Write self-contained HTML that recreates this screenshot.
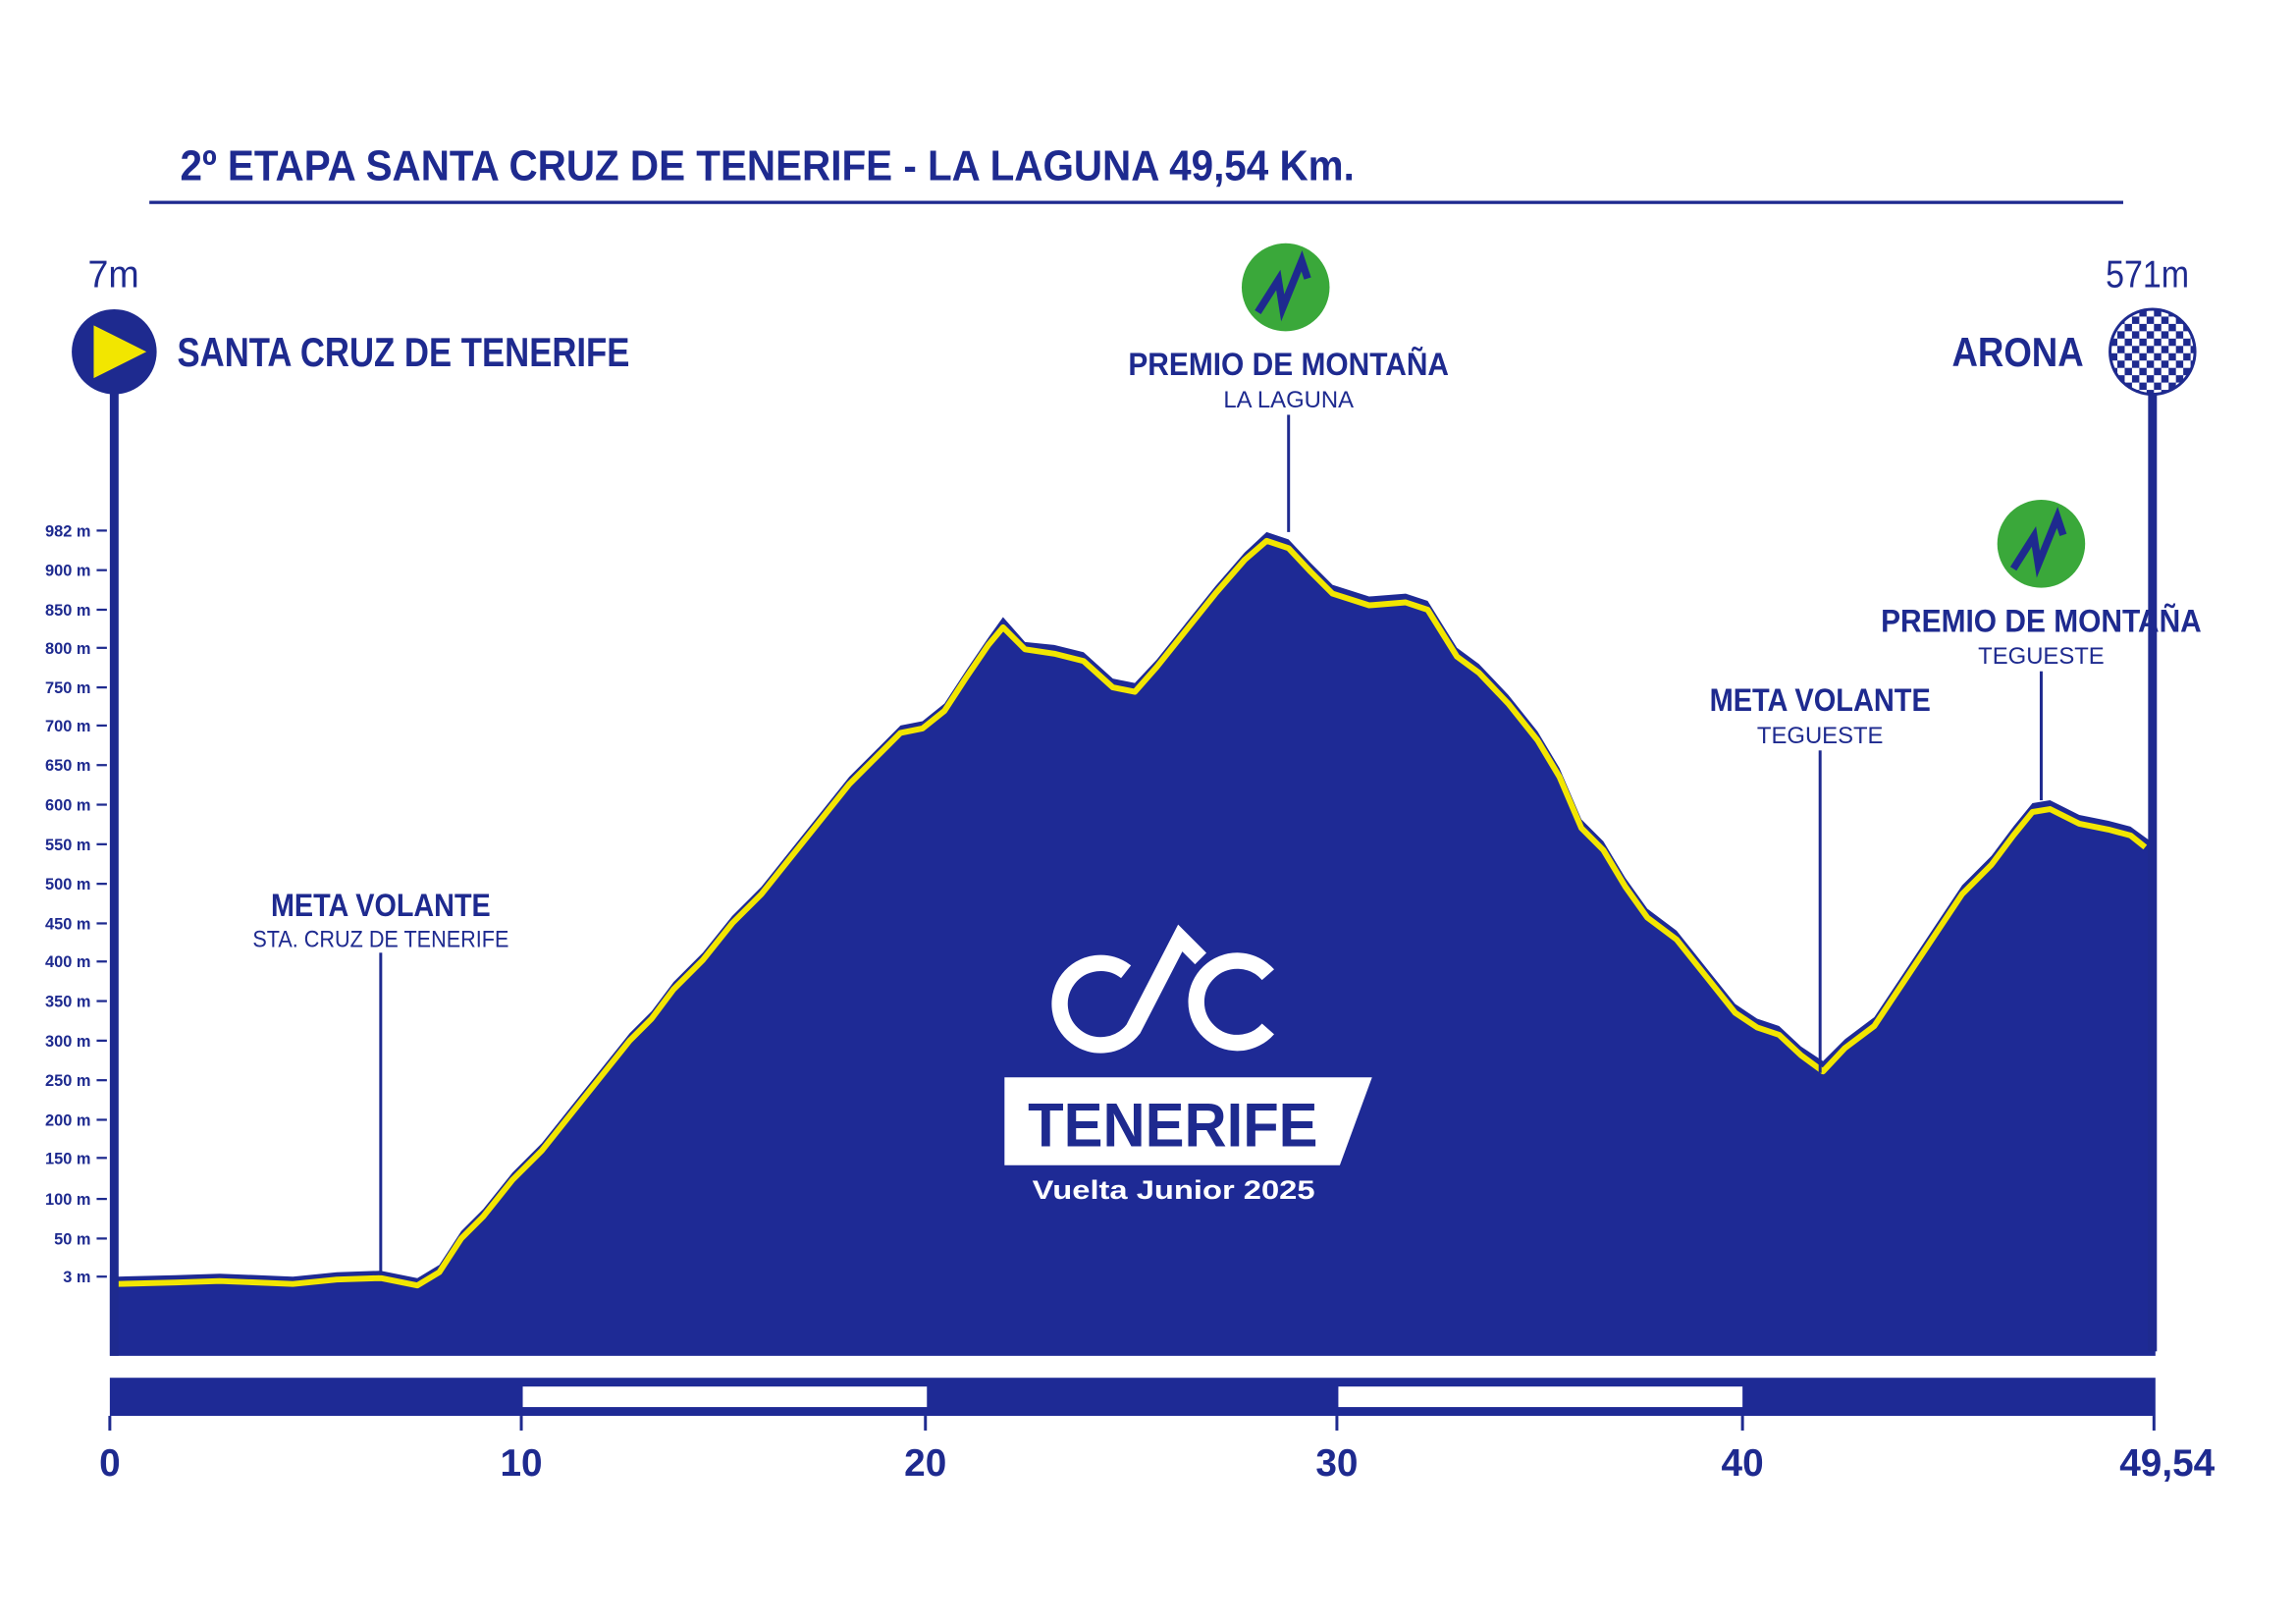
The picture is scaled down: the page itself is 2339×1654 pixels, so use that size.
<!DOCTYPE html>
<html><head><meta charset="utf-8"><style>
html,body{margin:0;padding:0;background:#fff;}
svg{display:block;}
text{font-family:"Liberation Sans Narrow","Liberation Sans",sans-serif;font-weight:bold;}
</style></head><body>
<svg width="2339" height="1654" viewBox="0 0 1568 1108" preserveAspectRatio="none" xmlns="http://www.w3.org/2000/svg">
<rect width="1568" height="1108" fill="#fff"/>
<!-- title -->
<text x="123" y="123" font-size="29" fill="#1e2a8f" textLength="802" lengthAdjust="spacingAndGlyphs">2º ETAPA  SANTA CRUZ DE TENERIFE - LA LAGUNA  49,54 Km.</text>
<rect x="102" y="137" width="1348" height="2.2" fill="#1e2a8f"/>

<!-- profile fill -->
<path fill="#1e2a95" d="M75,925 L75,870 L80,871 L120,870 L150,869 L200,871 L230,868 L260,867 L275,870 L285,872 L300,863 L315,840 L330,825 L350,800 L370,780 L390,755 L410,730 L430,705 L445,690 L460,670 L480,650 L500,625 L520,605 L540,580 L560,555 L580,530 L600,510 L615,495 L630,492 L645,480 L660,457 L675,435 L685,421 L700,438 L720,440 L740,445 L760,463 L775,466 L790,450 L810,425 L830,400 L850,377 L865,363 L880,368 L895,384 L910,399 L935,407 L960,405 L975,410 L995,442 L1010,453 L1030,474 L1050,499 L1065,524 L1080,559 L1095,574 L1110,599 L1125,620 L1145,635 L1165,660 L1185,685 L1200,695 L1215,700 L1230,714 L1245,724 L1260,709 L1280,694 L1300,664 L1320,634 L1340,604 L1360,584 L1375,564 L1388,548 L1400,546 L1420,556 L1440,560 L1455,564 L1466,572 L1472,576 L1472,925 Z"/>
<polyline fill="none" stroke="#f2e600" stroke-width="4" stroke-linejoin="round" points="80,876 120,875 150,874 200,876 230,873 260,872 275,875 285,877 300,868 315,845 330,830 350,805 370,785 390,760 410,735 430,710 445,695 460,675 480,655 500,630 520,610 540,585 560,560 580,535 600,515 615,500 630,497 645,485 660,462 675,440 685,428 700,443 720,446 740,451 760,469 775,472 790,455 810,430 830,405 850,382 865,369 880,374 895,390 910,405 935,413 960,411 975,416 995,448 1010,459 1030,480 1050,505 1065,530 1080,565 1095,580 1110,605 1125,626 1145,641 1165,666 1185,691 1200,701 1215,706 1230,720 1245,731 1260,715 1280,700 1300,670 1320,640 1340,610 1360,590 1375,570 1388,554 1400,552 1420,562 1440,566 1455,570 1465,578"/>

<!-- left axis -->
<rect x="75" y="240" width="6" height="685" fill="#1e2a8f"/>
<circle cx="78" cy="240" r="29" fill="#1e2a8f"/>
<polygon points="64,222 100,240 64,258" fill="#f2e600"/>
<text x="60" y="196" font-size="26" fill="#1e2a8f" textLength="35" lengthAdjust="spacingAndGlyphs" style="font-weight:normal">7m</text>
<text x="121" y="250" font-size="28" fill="#1e2a8f" textLength="309" lengthAdjust="spacingAndGlyphs">SANTA CRUZ DE TENERIFE</text>

<!-- right axis -->
<rect x="1467" y="240" width="6" height="682" fill="#1e2a8f"/>
<defs>
<pattern id="chk" width="10" height="10" patternUnits="userSpaceOnUse" x="1441" y="211">
<rect width="10" height="10" fill="#fff"/><rect width="5" height="5" fill="#1e2a8f"/><rect x="5" y="5" width="5" height="5" fill="#1e2a8f"/>
</pattern>
</defs>
<circle cx="1470" cy="240" r="29" fill="url(#chk)" stroke="#1e2a8f" stroke-width="2"/>
<text x="1438" y="196" font-size="26" fill="#1e2a8f" textLength="57" lengthAdjust="spacingAndGlyphs" style="font-weight:normal">571m</text>
<text x="1333" y="250" font-size="28" fill="#1e2a8f" textLength="90" lengthAdjust="spacingAndGlyphs">ARONA</text>

<!-- y labels -->
<g font-size="11" fill="#1e2a8f" text-anchor="end">
<text x="62" y="366">982 m</text><text x="62" y="393">900 m</text><text x="62" y="420">850 m</text><text x="62" y="446">800 m</text><text x="62" y="473">750 m</text><text x="62" y="499">700 m</text><text x="62" y="526">650 m</text><text x="62" y="553">600 m</text><text x="62" y="580">550 m</text><text x="62" y="607">500 m</text><text x="62" y="634">450 m</text><text x="62" y="660">400 m</text><text x="62" y="687">350 m</text><text x="62" y="714">300 m</text><text x="62" y="741">250 m</text><text x="62" y="768">200 m</text><text x="62" y="794">150 m</text><text x="62" y="822">100 m</text><text x="62" y="849">50 m</text><text x="62" y="875">3 m</text>
</g>
<g stroke="#1e2a8f" stroke-width="1.5">
<line x1="66" x2="73" y1="362" y2="362"/><line x1="66" x2="73" y1="389" y2="389"/><line x1="66" x2="73" y1="416" y2="416"/><line x1="66" x2="73" y1="442" y2="442"/><line x1="66" x2="73" y1="469" y2="469"/><line x1="66" x2="73" y1="495" y2="495"/><line x1="66" x2="73" y1="522" y2="522"/><line x1="66" x2="73" y1="549" y2="549"/><line x1="66" x2="73" y1="576" y2="576"/><line x1="66" x2="73" y1="603" y2="603"/><line x1="66" x2="73" y1="630" y2="630"/><line x1="66" x2="73" y1="656" y2="656"/><line x1="66" x2="73" y1="683" y2="683"/><line x1="66" x2="73" y1="710" y2="710"/><line x1="66" x2="73" y1="737" y2="737"/><line x1="66" x2="73" y1="764" y2="764"/><line x1="66" x2="73" y1="790" y2="790"/><line x1="66" x2="73" y1="818" y2="818"/><line x1="66" x2="73" y1="845" y2="845"/><line x1="66" x2="73" y1="871" y2="871"/>
</g>

<!-- annotations -->
<circle cx="878" cy="196" r="30" fill="#3aa83a"/>
<polyline points="859,213 873,191 876,210 889,178 893,190" fill="none" stroke="#1e2a8f" stroke-width="5" stroke-linejoin="miter"/>
<text x="880" y="256" font-size="22" fill="#1e2a8f" text-anchor="middle" textLength="219" lengthAdjust="spacingAndGlyphs">PREMIO DE MONTAÑA</text>
<text x="880" y="278" font-size="16" fill="#1e2a8f" text-anchor="middle" style="font-weight:normal">LA LAGUNA</text>
<rect x="879" y="283" width="2" height="80" fill="#1e2a8f"/>

<circle cx="1394" cy="371" r="30" fill="#3aa83a"/>
<polyline points="1375,388 1389,366 1392,385 1405,353 1409,365" fill="none" stroke="#1e2a8f" stroke-width="5"/>
<text x="1394" y="431" font-size="22" fill="#1e2a8f" text-anchor="middle" textLength="219" lengthAdjust="spacingAndGlyphs">PREMIO DE MONTAÑA</text>
<text x="1394" y="453" font-size="16" fill="#1e2a8f" text-anchor="middle" style="font-weight:normal">TEGUESTE</text>
<rect x="1393" y="458" width="2" height="88" fill="#1e2a8f"/>

<text x="1243" y="485" font-size="22" fill="#1e2a8f" text-anchor="middle" textLength="151" lengthAdjust="spacingAndGlyphs">META VOLANTE</text>
<text x="1243" y="507" font-size="16" fill="#1e2a8f" text-anchor="middle" style="font-weight:normal">TEGUESTE</text>
<rect x="1242" y="512" width="2" height="220" fill="#1e2a8f"/>

<text x="260" y="625" font-size="22" fill="#1e2a8f" text-anchor="middle" textLength="150" lengthAdjust="spacingAndGlyphs">META VOLANTE</text>
<text x="260" y="646" font-size="16" fill="#1e2a8f" text-anchor="middle" textLength="175" lengthAdjust="spacingAndGlyphs" style="font-weight:normal">STA. CRUZ DE TENERIFE</text>
<rect x="259" y="650" width="2" height="220" fill="#1e2a8f"/>

<!-- logo -->
<g fill="none" stroke="#fff" stroke-width="11" stroke-linecap="butt" stroke-linejoin="miter">
<path d="M769,663 A28,28 0 1 0 774,702 L806,640 L820,654"/>
<path d="M866,665 A28,28 0 1 0 866,702"/>
</g>
<polygon points="686,735 937,735 915,795 686,795" fill="#fff"/>
<text x="702" y="782" font-size="42" fill="#1e2a8f" textLength="198" lengthAdjust="spacingAndGlyphs" style="font-family:'Liberation Sans',sans-serif">TENERIFE</text>
<text x="705" y="818" font-size="18" fill="#fff" textLength="193" lengthAdjust="spacingAndGlyphs" style="font-family:'Liberation Sans',sans-serif">Vuelta Junior 2025</text>

<!-- distance bar -->
<rect x="75" y="940" width="1397" height="26" fill="#1e2a95"/>
<rect x="357" y="946" width="276" height="14" fill="#fff"/>
<rect x="914" y="946" width="276" height="14" fill="#fff"/>
<g stroke="#1e2a8f" stroke-width="2">
<line x1="75" x2="75" y1="966" y2="976"/><line x1="356" x2="356" y1="966" y2="976"/><line x1="632" x2="632" y1="966" y2="976"/><line x1="913" x2="913" y1="966" y2="976"/><line x1="1190" x2="1190" y1="966" y2="976"/><line x1="1471" x2="1471" y1="966" y2="976"/>
</g>
<g font-size="26" fill="#1e2a8f" text-anchor="middle">
<text x="75" y="1007">0</text><text x="356" y="1007">10</text><text x="632" y="1007">20</text><text x="913" y="1007">30</text><text x="1190" y="1007">40</text><text x="1480" y="1007">49,54</text>
</g>
</svg>
</body></html>
